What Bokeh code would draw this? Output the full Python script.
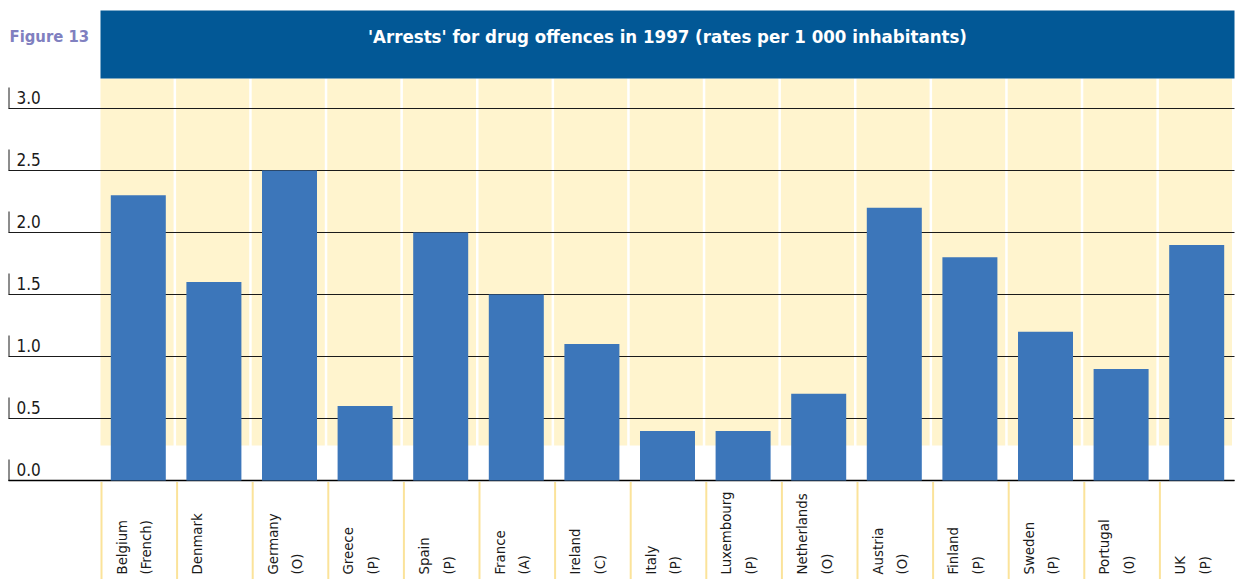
import math
from bokeh.plotting import figure
from bokeh.core.properties import value
from bokeh.embed import file_html
from bokeh.resources import INLINE

# ---- data ----
countries = ["Belgium\n(French)", "Denmark", "Germany\n(O)", "Greece\n(P)", "Spain\n(P)",
             "France\n(A)", "Ireland\n(C)", "Italy\n(P)", "Luxembourg\n(P)", "Netherlands\n(O)",
             "Austria\n(O)", "Finland\n(P)", "Sweden\n(P)", "Portugal\n(0)", "UK\n(P)"]
rates = [2.3, 1.6, 2.5, 0.6, 2.0, 1.5, 1.1, 0.4, 0.4, 0.7, 2.2, 1.8, 1.2, 0.9, 1.9]
y_ticks = [0.0, 0.5, 1.0, 1.5, 2.0, 2.5, 3.0]
y_tick_labels = ["0.0", "0.5", "1.0", "1.5", "2.0", "2.5", "3.0"]
title_text = "'Arrests' for drug offences in 1997 (rates per 1 000 inhabitants)"
figure_label = "Figure 13"

FONT = "DejaVu Sans Condensed"

n = len(countries)
# layout: one category band = 75.6 px, 1 value unit = 124 px
BAND = 75.6
UNIT = 124.0
W, H = 1240, 579
x0_px = 100.0   # canvas px of x=0
y0_px = 480.0   # canvas px of y=0
x_start = -x0_px / BAND
x_end = (W - x0_px) / BAND
y_end = y0_px / UNIT
y_start = (y0_px - H) / UNIT

p = figure(width=W, height=H, x_range=(x_start, x_end), y_range=(y_start, y_end),
           output_backend="svg", toolbar_location=None, min_border=0,
           min_border_left=0, min_border_right=0, min_border_top=0, min_border_bottom=0)
p.xaxis.visible = False
p.yaxis.visible = False
p.grid.visible = False
p.outline_line_color = None
p.background_fill_color = "white"
p.border_fill_color = "white"

idx = list(range(n))
gap = 2.5 / BAND

# yellow background bands
p.quad(left=[i for i in idx], right=[i + 1 - gap for i in idx],
       bottom=[35 / UNIT] * n, top=[402 / UNIT] * n,
       fill_color="#FFF4CE", line_color=None)

# title bar
tb_bottom = (y0_px - 78) / UNIT
tb_top = (y0_px - 10) / UNIT
title_y = (y0_px - 36) / UNIT
p.quad(left=[0], right=[n], bottom=[tb_bottom], top=[tb_top],
       fill_color="#025896", line_color=None)
p.text(x=[n / 2], y=[title_y], text=[title_text],
       text_color="white", text_font=value(FONT), text_font_style="bold",
       text_font_size="18.5px", text_align="center", text_baseline="middle")

# figure label
p.text(x=[x_start + 9 / BAND], y=[title_y], text=[figure_label],
       text_color="#8080C0", text_font=value(FONT), text_font_style="bold",
       text_font_size="16.5px", text_align="left", text_baseline="middle")

# gridlines
p.segment(x0=[x_start + 8 / BAND] * len(y_ticks), x1=[n] * len(y_ticks),
          y0=y_ticks, y1=y_ticks, line_color="#1a1a1a", line_width=1)
# baseline thicker
p.segment(x0=[x_start + 8 / BAND], x1=[n], y0=[0], y1=[0], line_color="black", line_width=1.6)

# small vertical tick marks at left
p.segment(x0=[x_start + 8.5 / BAND] * len(y_ticks), x1=[x_start + 8.5 / BAND] * len(y_ticks),
          y0=y_ticks, y1=[t + 21 / UNIT for t in y_ticks], line_color="#1a1a1a", line_width=1)
# tick labels
p.text(x=[x_start + 16 / BAND] * len(y_ticks), y=y_ticks, text=y_tick_labels,
       text_color="#1a1a1a", text_font=value(FONT), text_font_size="17px",
       text_align="left", text_baseline="bottom", y_offset=-5)

# bars
p.vbar(x=[i + 0.5 for i in idx], top=rates, bottom=0, width=55 / BAND,
       fill_color="#3C76BA", line_color=None)

# separators below baseline
p.segment(x0=[i + 1 / BAND for i in idx], x1=[i + 1 / BAND for i in idx],
          y0=[-1.5 / UNIT] * n, y1=[y_start] * n, line_color="#FBE39A", line_width=2)

# category labels (rotated)
p.text(x=[i + 12 / BAND for i in idx], y=[-94 / UNIT] * n, text=countries,
       angle=math.pi / 2, text_color="#1a1a1a", text_font=value(FONT),
       text_font_size="14.8px", text_align="left", text_baseline="top",
       text_line_height=1.45)

open("out.html", "w").write(file_html(p, INLINE))
